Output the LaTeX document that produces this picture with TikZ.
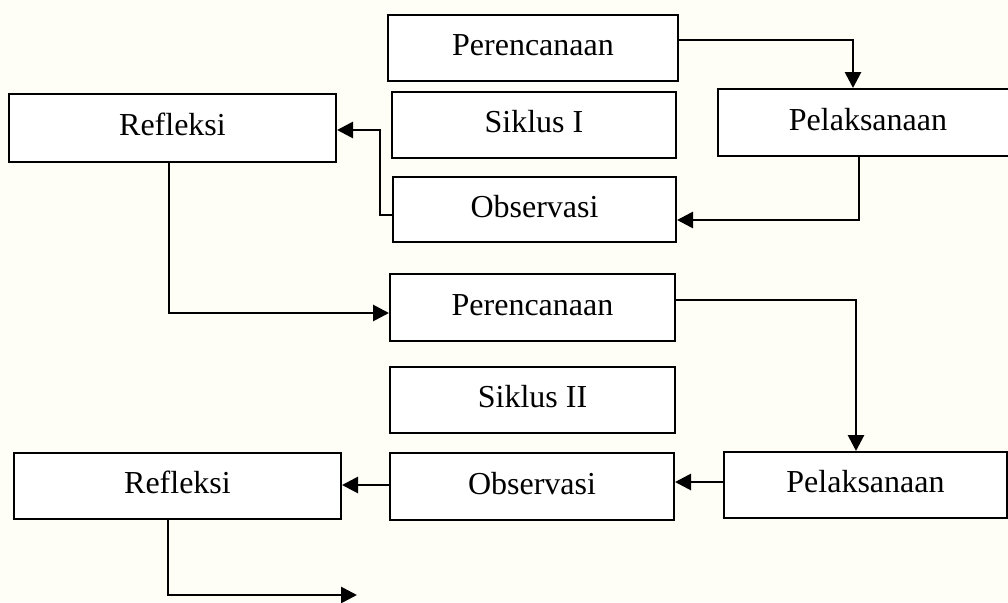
\documentclass[tikz,border=0pt]{standalone}
\usepackage{fontspec}
\setmainfont{Liberation Serif}
\usetikzlibrary{arrows.meta}
\definecolor{bgcream}{RGB}{255,254,246}
\tikzset{
  box/.style={draw=black, line width=2pt, fill=white, inner sep=0pt,
    font=\fontsize{32}{38}\selectfont, text height=22pt, text depth=7pt},
  conn/.style={line width=2.8pt, -{Triangle[length=16pt,width=16pt]}},
}
\begin{document}
\begin{tikzpicture}[x=1pt,y=-1pt]
\useasboundingbox (0,0) rectangle (1008,602);
\fill[bgcream] (0,0) rectangle (1008,602);
% Siklus I
\node[box, minimum width=290pt, minimum height=66pt] (p1) at (533,48) {Perencanaan};
\node[box, minimum width=284pt, minimum height=66pt] (s1) at (534,125) {Siklus I};
\node[box, minimum width=283pt, minimum height=65pt] (o1) at (534.5,209.5) {Observasi};
\node[box, minimum width=300pt, minimum height=67pt] (l1) at (868,122.5) {Pelaksanaan};
\node[box, minimum width=327pt, minimum height=68pt] (r1) at (172.5,128) {Refleksi};
% Siklus II
\node[box, minimum width=285pt, minimum height=67pt] (p2) at (532.5,307.5) {Perencanaan};
\node[box, minimum width=285pt, minimum height=66pt] (s2) at (532.5,400) {Siklus II};
\node[box, minimum width=284pt, minimum height=67pt] (o2) at (532,486.5) {Observasi};
\node[box, minimum width=283pt, minimum height=66pt] (l2) at (865.5,485) {Pelaksanaan};
\node[box, minimum width=327pt, minimum height=66pt] (r2) at (177.5,486) {Refleksi};
\coordinate (end) at (357,595);
% connectors
\draw[conn] (p1.east |- 0,40) -| (853,0 |- l1.north);
\draw[conn] (859,0 |- l1.south) |- (o1.east |- 0,220);
\draw[conn] (o1.west |- 0,215) -| (380,130) -- (r1.east |- 0,130);
\draw[conn] (169,0 |- r1.south) |- (p2.west |- 0,313);
\draw[conn] (p2.east |- 0,300) -| (856,0 |- l2.north);
\draw[conn] (l2.west |- 0,482) -- (o2.east |- 0,482);
\draw[conn] (o2.west |- 0,485) -- (r2.east |- 0,485);
\draw[conn] (168,0 |- r2.south) |- (end);
\end{tikzpicture}
\end{document}
